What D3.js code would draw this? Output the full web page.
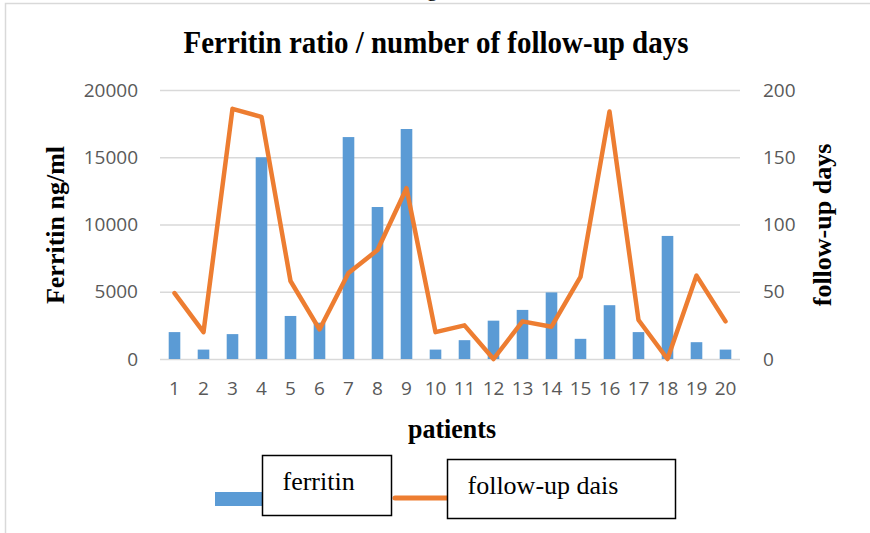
<!DOCTYPE html>
<html>
<head>
<meta charset="utf-8">
<script src="https://cdn.jsdelivr.net/npm/d3@7"></script>
<style>
  body { margin: 0; background: #fff; }
  svg { display: block; }
</style>
</head>
<body>
<svg width="870" height="533"></svg>
<script>
var patients = d3.range(1, 21).map(String);
var ferritin = [2000, 700, 1850, 15000, 3200, 2700, 16500, 11300, 17100, 700,
                1400, 2850, 3650, 4950, 1500, 4000, 2000, 9150, 1250, 700];
var followUp = [49, 20, 186, 180, 58, 22, 64, 81, 127, 20,
                25, 0, 28, 24, 61, 184, 29, 0, 62, 28];
var leftTicks = [0, 5000, 10000, 15000, 20000];
var rightTicks = [0, 50, 100, 150, 200];
var seriesNames = ["ferritin", "follow-up dais"];

var svg = d3.select("svg");
var blue = "#5b9bd5", orange = "#ed7d31", grid = "#d9d9d9", tickCol = "#595959";
var serif = "'Liberation Serif', 'Times New Roman', serif";
var sans = "'Open Sans', 'Liberation Sans', sans-serif";

// frame of the picture
svg.append("rect").attr("x", 5.5).attr("y", 3.5).attr("width", 880).attr("height", 560)
    .attr("fill", "none").attr("stroke", grid).attr("stroke-width", 1.5);
// cut-off caption above
svg.append("text").attr("x", 437).attr("y", -4).attr("text-anchor", "middle")
    .style("font-family", serif).style("font-size", "22px").text("Figure");

var plotL = 160, plotR = 740, plotT = 90, plotB = 359;

var x = d3.scaleBand().domain(patients).range([plotL, plotR]).padding(0);
var yL = d3.scaleLinear().domain([0, 20000]).range([plotB, plotT]);
var yR = d3.scaleLinear().domain([0, 200]).range([plotB, plotT]);

// gridlines
svg.append("g").selectAll("line").data(leftTicks).enter().append("line")
    .attr("x1", plotL).attr("x2", plotR)
    .attr("y1", function(d) { return yL(d) + 0.5; })
    .attr("y2", function(d) { return yL(d) + 0.5; })
    .attr("stroke", grid).attr("stroke-width", 1.3);

// axes
var axL = svg.append("g").attr("transform", "translate(" + (plotL - 22) + ",0)")
    .call(d3.axisLeft(yL).tickValues(leftTicks).tickSize(0).tickPadding(0).tickFormat(d3.format("d")));
var axR = svg.append("g").attr("transform", "translate(" + (plotR + 23) + ",0)")
    .call(d3.axisRight(yR).tickValues(rightTicks).tickSize(0).tickPadding(0));
var axB = svg.append("g").attr("transform", "translate(0," + (plotB + 22) + ")")
    .call(d3.axisBottom(x).tickSize(0).tickPadding(0));
[axL, axR, axB].forEach(function(a) {
  a.select(".domain").remove();
  a.selectAll("text").attr("fill", tickCol).style("font-family", sans).style("font-size", "19px");
});

// bars
var bw = x.bandwidth() * 0.4;
svg.append("g").selectAll("rect").data(ferritin).enter().append("rect")
    .attr("x", function(d, i) { return x(patients[i]) + (x.bandwidth() - bw) / 2; })
    .attr("width", bw)
    .attr("y", function(d) { return yL(d); })
    .attr("height", function(d) { return yL(0) - yL(d); })
    .attr("fill", blue);

// line
var line = d3.line()
    .x(function(d, i) { return x(patients[i]) + x.bandwidth() / 2; })
    .y(function(d) { return yR(d); });
svg.append("path").datum(followUp).attr("d", line)
    .attr("fill", "none").attr("stroke", orange).attr("stroke-width", 4.5)
    .attr("stroke-linejoin", "round").attr("stroke-linecap", "round");

// titles (source image is a little stretched vertically)
svg.append("text").attr("transform", "translate(436,53) scale(1,1.12)").attr("text-anchor", "middle")
    .style("font-family", serif).style("font-weight", "bold").style("font-size", "29px")
    .text("Ferritin ratio / number of follow-up days");
svg.append("text").attr("transform", "translate(64,225) rotate(-90)").attr("text-anchor", "middle")
    .style("font-family", serif).style("font-weight", "bold").style("font-size", "26px")
    .text("Ferritin ng/ml");
svg.append("text").attr("transform", "translate(831,225) rotate(-90)").attr("text-anchor", "middle")
    .style("font-family", serif).style("font-weight", "bold").style("font-size", "26px")
    .text("follow-up days");
svg.append("text").attr("transform", "translate(452,438) scale(1,1.08)").attr("text-anchor", "middle")
    .style("font-family", serif).style("font-weight", "bold").style("font-size", "26px")
    .text("patients");

// legend
svg.append("rect").attr("x", 215).attr("y", 492).attr("width", 50).attr("height", 14).attr("fill", blue);
svg.append("line").attr("x1", 395).attr("x2", 448).attr("y1", 498).attr("y2", 498)
    .attr("stroke", orange).attr("stroke-width", 5).attr("stroke-linecap", "round");
var boxes = [{x: 262.5, y: 455.5, w: 129, h: 60}, {x: 447.5, y: 459.5, w: 228, h: 59}];
var lg = svg.append("g").selectAll("g").data(seriesNames).enter().append("g");
lg.append("rect")
    .attr("x", function(d, i) { return boxes[i].x; }).attr("y", function(d, i) { return boxes[i].y; })
    .attr("width", function(d, i) { return boxes[i].w; }).attr("height", function(d, i) { return boxes[i].h; })
    .attr("fill", "#fff").attr("stroke", "#000").attr("stroke-width", 1.5);
lg.append("text")
    .attr("x", function(d, i) { return boxes[i].x + 20; })
    .attr("y", function(d, i) { return boxes[i].y + 34.5; })
    .style("font-family", serif).style("font-size", "26px").attr("fill", "#000")
    .text(function(d) { return d; });
</script>
</body>
</html>
